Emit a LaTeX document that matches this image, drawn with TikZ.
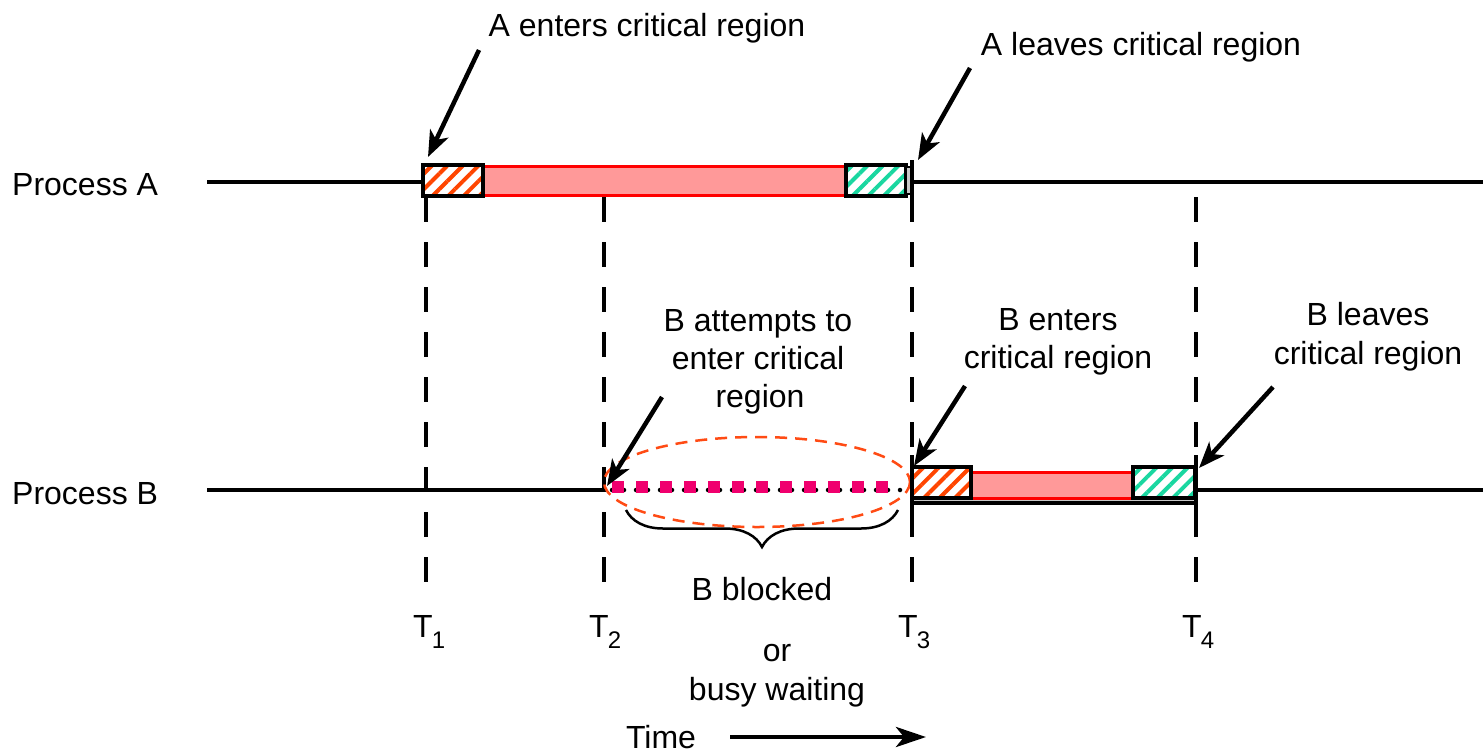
\documentclass[tikz,border=0pt]{standalone}
\usepackage{fontspec}
\setmainfont{Liberation Sans}
\usetikzlibrary{arrows.meta,patterns.meta,decorations.pathreplacing}
\definecolor{barred}{RGB}{255,0,0}
\definecolor{barpink}{RGB}{255,153,153}
\definecolor{hatchor}{RGB}{255,69,0}
\definecolor{hatchgr}{RGB}{25,215,160}
\definecolor{ellcol}{RGB}{255,75,20}
\definecolor{sqcol}{RGB}{240,0,110}
\definecolor{smallgray}{RGB}{200,200,200}
\tikzset{
  lbl/.style={font=\fontsize{32}{38}\selectfont, inner sep=0pt, anchor=base},
  pointer/.style={line width=4.5pt, -{Stealth[length=26pt,width=20pt,inset=7pt]}},
  tline/.style={line width=3.5pt},
  vdash/.style={line width=3.5pt, dash pattern=on 25pt off 20pt},
  hatchO/.style={draw=black, line width=3.5pt, preaction={fill=white},
     pattern={Lines[angle=45,distance=11pt,line width=4pt]}, pattern color=hatchor},
  hatchG/.style={draw=black, line width=3.5pt, preaction={fill=white},
     pattern={Lines[angle=45,distance=11pt,line width=4pt]}, pattern color=hatchgr},
  critbar/.style={fill=barpink, draw=barred, line width=3pt},
  waitsq/.style={fill=sqcol, draw=none}
}
\newcommand{\tsubscript}[1]{\hspace{-1pt}\raisebox{-11pt}{\fontsize{24}{24}\selectfont #1}}
\begin{document}
\begin{tikzpicture}[x=1pt,y=-1pt]
\fill[white] (0,0) rectangle (1483,753);
\useasboundingbox (0,0) rectangle (1483,753);

% ---- dashed time markers
\draw[vdash] (426,197) -- (426,600);
\draw[vdash] (604,197) -- (604,600);
\draw[vdash] (912,197) -- (912,600);
\draw[vdash] (1196,197) -- (1196,600);

% ---- Process A timeline
\node[lbl, anchor=base west] (pa) at (12,195) {Process A};
\draw[tline] (207,182) -- (423,182);
\draw[tline] (912,182) -- (1483,182);
\draw[critbar] (483,166) rectangle (846,195);
\draw[hatchO] (423,165) rectangle (483,196);
\draw[hatchG] (846,165) rectangle (906,196);
\draw[fill=smallgray, line width=2pt] (906,167) rectangle (911,194);
\draw[tline] (912,160) -- (912,205);

% ---- Process B timeline
\node[lbl, anchor=base west] (pb) at (12,504) {Process B};
\draw[tline] (207,490) -- (606,490);
\draw[tline] (1196,490) -- (1483,490);
% busy waiting
\draw[line width=4.5pt, line cap=round, dash pattern=on 0pt off 12pt] (612,490) -- (910,490);
\foreach \i in {0,...,11} {
  \fill[waitsq] (612+24*\i,481) rectangle ++(12,12);
}
\draw[ellcol, line width=2.5pt, dash pattern=on 12pt off 8pt] (757,482) ellipse [x radius=153, y radius=45];
% B critical region
\fill[smallgray] (913,498) rectangle (1195,502);
\draw[tline] (913,503) -- (1196,503);
\draw[critbar] (971,472) rectangle (1133,498);
\draw[hatchO] (912,467) rectangle (971,498);
\draw[hatchG] (1133,467) rectangle (1195,498);
\draw[tline] (912,455) -- (912,517);
\draw[tline] (1196,455) -- (1196,517);

% ---- brace
\draw[line width=2.5pt, decorate, decoration={brace, amplitude=37pt, aspect=0.5}] (898,510) -- (626,510);

% ---- labels
\node[lbl] (aent) at (647,36) {A enters critical region};
\node[lbl] (alev) at (1141,55) {A leaves critical region};
\node[lbl] (batt1) at (758,331) {B attempts to};
\node[lbl] (batt2) at (758,369) {enter critical};
\node[lbl] (batt3) at (760,407) {region};
\node[lbl] (bent1) at (1058,330) {B enters};
\node[lbl] (bent2) at (1058,368) {critical region};
\node[lbl] (blev1) at (1368,325) {B leaves};
\node[lbl] (blev2) at (1368,364) {critical region};
\node[lbl] (bblk) at (762,600) {B blocked};
\node[lbl] (bor) at (777,661) {or};
\node[lbl] (bbusy) at (777,700) {busy waiting};
\node[lbl] (time) at (661,748) {Time};

\node[lbl, anchor=base west] (t1) at (413,637) {T\tsubscript{1}};
\node[lbl, anchor=base west] (t2) at (589,637) {T\tsubscript{2}};
\node[lbl, anchor=base west] (t3) at (898,637) {T\tsubscript{3}};
\node[lbl, anchor=base west] (t4) at (1182,637) {T\tsubscript{4}};

% ---- pointer arrows
\coordinate (a1s) at (479,50);   \coordinate (a1e) at (428,157);
\coordinate (a2s) at (970,68);   \coordinate (a2e) at (918,160);
\coordinate (a3s) at (662,397);  \coordinate (a3e) at (607,486);
\coordinate (a4s) at (965,386);  \coordinate (a4e) at (914,466);
\coordinate (a5s) at (1273,387); \coordinate (a5e) at (1199,468);
\draw[pointer] (a1s) -- (a1e);
\draw[pointer] (a2s) -- (a2e);
\draw[pointer] (a3s) -- (a3e);
\draw[pointer] (a4s) -- (a4e);
\draw[pointer] (a5s) -- (a5e);

% ---- time arrow
\coordinate (tas) at (730,737); \coordinate (tae) at (926,737);
\draw[line width=4.5pt, -{Stealth[length=30pt,width=20pt,inset=8pt]}] (tas) -- (tae);
\end{tikzpicture}
\end{document}
